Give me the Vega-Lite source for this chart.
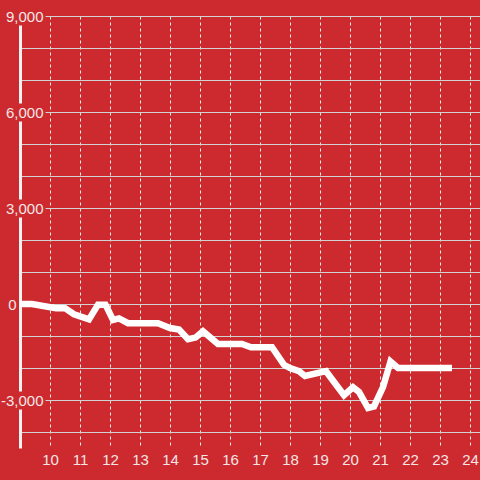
{
  "$schema": "https://vega.github.io/schema/vega-lite/v6.json",
  "width": 460,
  "height": 432,
  "autosize": {"type": "none"},
  "padding": {"left": 20, "top": 16, "right": 0, "bottom": 32},
  "background": "#cc2a2f",
  "config": {"view": {"stroke": null}, "font": "Liberation Sans"},
  "layer": [
    {
      "mark": {"type": "rule", "color": "#f5f5f5", "strokeWidth": 3.5},
      "encoding": {
        "y": {"datum": 0, "type": "quantitative"}
      }
    },
    {
      "data": {
        "values": [
          {"t": 9.0, "v": 0},
          {"t": 9.4, "v": 0},
          {"t": 10.2, "v": -130},
          {"t": 10.5, "v": -130},
          {"t": 10.8, "v": -320},
          {"t": 11.3, "v": -480},
          {"t": 11.6, "v": -20},
          {"t": 11.85, "v": -20},
          {"t": 12.1, "v": -500},
          {"t": 12.3, "v": -450},
          {"t": 12.6, "v": -600},
          {"t": 13.6, "v": -600},
          {"t": 14.0, "v": -750},
          {"t": 14.3, "v": -800},
          {"t": 14.6, "v": -1100},
          {"t": 14.85, "v": -1050},
          {"t": 15.1, "v": -850},
          {"t": 15.6, "v": -1250},
          {"t": 16.4, "v": -1250},
          {"t": 16.7, "v": -1350},
          {"t": 17.4, "v": -1350},
          {"t": 17.8, "v": -1900},
          {"t": 18.0, "v": -2000},
          {"t": 18.3, "v": -2100},
          {"t": 18.5, "v": -2250},
          {"t": 19.2, "v": -2100},
          {"t": 19.6, "v": -2600},
          {"t": 19.8, "v": -2850},
          {"t": 20.1, "v": -2600},
          {"t": 20.3, "v": -2750},
          {"t": 20.6, "v": -3250},
          {"t": 20.8, "v": -3200},
          {"t": 21.1, "v": -2600},
          {"t": 21.35, "v": -1800},
          {"t": 21.6, "v": -2000},
          {"t": 23.4, "v": -2000}
        ]
      },
      "mark": {"type": "line", "color": "#ffffff", "strokeWidth": 6.5},
      "encoding": {
        "x": {
          "field": "t",
          "type": "quantitative",
          "scale": {"domain": [9, 24.3333], "nice": false, "zero": false},
          "axis": {
            "title": null,
            "values": [10, 11, 12, 13, 14, 15, 16, 17, 18, 19, 20, 21, 22, 23, 24],
            "tickCount": 30,
            "format": "d",
            "grid": true,
            "gridDash": [3, 3],
            "gridColor": "#eeeeee",
            "gridWidth": 1,
            "domain": false,
            "ticks": false,
            "labelPadding": 4,
            "labelFontSize": 15,
            "labelColor": "#f4e6e6",
            "labelFlush": false,
            "labelOverlap": false
          }
        },
        "y": {
          "field": "v",
          "type": "quantitative",
          "scale": {"domain": [-4500, 9000], "nice": false},
          "axis": {
            "title": null,
            "values": [-4000, -3000, -2000, -1000, 0, 1000, 2000, 3000, 4000, 5000, 6000, 7000, 8000, 9000],
            "tickCount": 30,
            "format": ",d",
            "labelExpr": "datum.value % 3000 === 0 ? replace(datum.label, '\u2212', '-') : ''",
            "grid": true,
            "gridColor": "#d2d2d2",
            "gridWidth": 1,
            "gridDash": {"condition": {"test": "datum.value % 3000 === 0 && datum.value !== 0", "value": [0, 25, 1000]}, "value": []},
            "domain": true,
            "domainColor": "#f2f2f2",
            "domainWidth": 3,
            "domainDash": [39, 18, 174, 18, 78, 18, 78, 18, 100],
            "ticks": false,
            "labelAlign": "right",
            "labelPadding": {"condition": {"test": "datum.value === 0", "value": 4}, "value": -23},
            "labelFontSize": 15,
            "labelColor": "#f4e6e6",
            "labelFlush": false,
            "labelOverlap": false
          }
        }
      }
    }
  ]
}
